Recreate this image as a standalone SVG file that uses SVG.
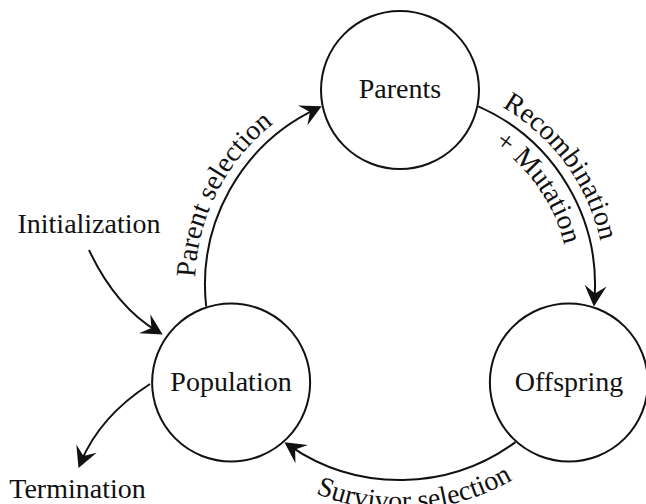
<svg xmlns="http://www.w3.org/2000/svg" width="646" height="504" viewBox="0 0 646 504">
<style>
.node{fill:#fff;stroke:#111;stroke-width:2}
.lbl{font-family:"Liberation Serif","Times New Roman",serif;font-size:28px;fill:#111}
.mid{text-anchor:middle}
.edge{fill:none;stroke:#111;stroke-width:2;marker-end:url(#stealth)}
</style>
<defs>
<marker id="stealth" markerUnits="userSpaceOnUse" viewBox="-22 -12 23 24" markerWidth="23" markerHeight="24" refX="-6" refY="0" orient="auto">
<path d="M0,0 L-21,-11 L-13,0 L-21,11 Z" fill="#111"/>
</marker>
<path id="tpParent" d="M 205.03 348.35 A 205 205 0 0 1 336.65 90.03"/>
<path id="tpRecomb" d="M 431.01 82.36 A 205 205 0 0 1 602.64 316.01"/>
<path id="tpMut" d="M 429.35 118.57 A 169 169 0 0 1 566.43 314.35"/>
<path id="tpSurv" d="M 238.15 441.30 A 225 225 0 0 0 582.03 417.25"/>
</defs>
<g id="connectors">
<path class="edge" d="M 206.19 306.5 A 195 195 0 0 1 316.27 108.89"/>
<path class="edge" d="M 478.27 106.4 A 195 195 0 0 1 594.38 300.54"/>
<path class="edge" d="M 515.5 442.12 A 195 195 0 0 1 289.35 445.57"/>
<path class="edge" d="M 89 250 C 104 282 125 312 157.5 331.5"/>
<path class="edge" d="M 150 384 C 122 402 95 428 80.8 462.5"/>
<text class="lbl mid"><textPath href="#tpParent" startOffset="50%">Parent selection</textPath></text>
<text class="lbl mid"><textPath href="#tpRecomb" startOffset="50%">Recombination</textPath></text>
<text class="lbl mid"><textPath href="#tpMut" startOffset="50%">+ Mutation</textPath></text>
<text class="lbl mid"><textPath href="#tpSurv" startOffset="50%">Survivor selection</textPath></text>
</g>
<g id="parents">
<circle class="node" cx="400" cy="90" r="79"/>
<text class="lbl mid" x="400" y="98">Parents</text>
</g>
<g id="population">
<circle class="node" cx="231.13" cy="382.5" r="79"/>
<text class="lbl mid" x="231" y="391">Population</text>
</g>
<g id="offspring">
<circle class="node" cx="568.87" cy="382.5" r="79"/>
<text class="lbl mid" x="569" y="391">Offspring</text>
</g>
<g id="initialization">
<text class="lbl mid" x="89" y="233">Initialization</text>
</g>
<g id="termination">
<text class="lbl mid" x="77.5" y="498">Termination</text>
</g>
</svg>
